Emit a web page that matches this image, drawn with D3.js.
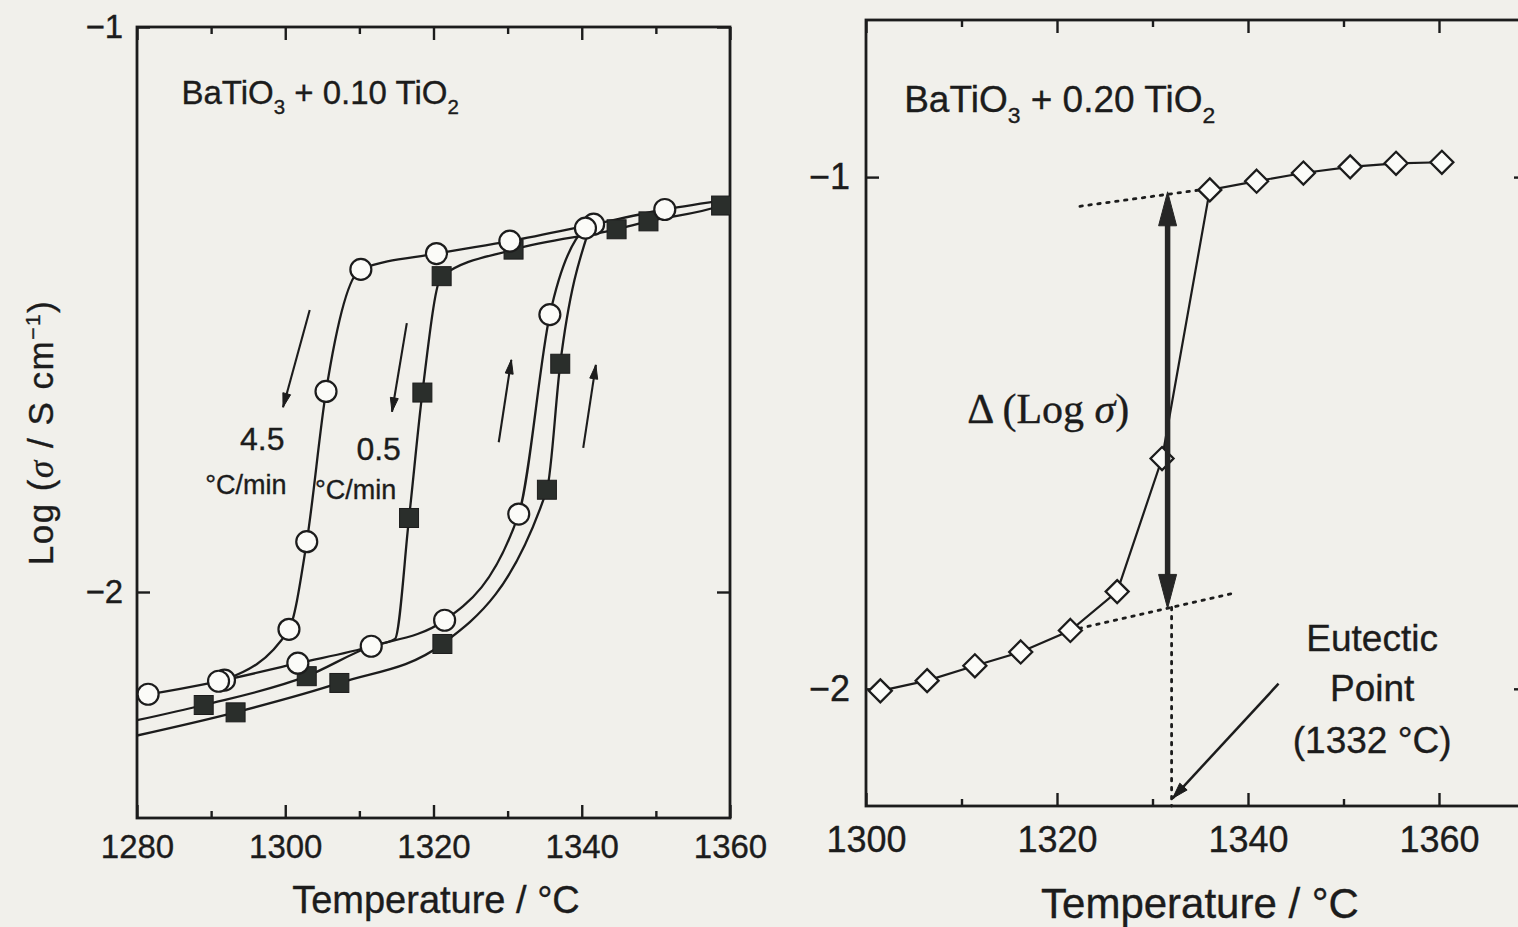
<!DOCTYPE html>
<html>
<head>
<meta charset="utf-8">
<script src="https://cdn.jsdelivr.net/npm/d3@7"></script>
<style>
  html, body { margin: 0; padding: 0; background: #f1f0eb; }
  svg { display: block; }
  text { fill: #1c1c1c; stroke: #1c1c1c; stroke-width: 0.35px; }
</style>
</head>
<body>
<svg id="fig" width="1518" height="927"></svg>
<script>
// ---------- Left panel: BaTiO3 + 0.10 TiO2 (temperature in °C, log σ in S/cm) ----------
const leftMajorT = [1280, 1300, 1320, 1340, 1360];
const leftMinorT = [1290, 1310, 1330, 1350];
const leftYTicks = [-1, -2];

// open circles, cooling at 4.5 °C/min (mark = 0: trace continues to the frame)
const coolFastT    = [1291.8, 1300.5, 1302.9, 1305.5, 1310.2, 1320.4, 1330.3, 1341.6, 1351.2, 1360];
const coolFastLog  = [-2.156, -2.066, -1.911, -1.645, -1.429, -1.401, -1.379, -1.349, -1.323, -1.305];
const coolFastMark = [1, 1, 1, 1, 1, 1, 1, 1, 1, 0];

// open circles, heating run
const heatOpenT    = [1280, 1281.5, 1291.0, 1301.7, 1311.6, 1321.5, 1331.5, 1335.7, 1340.5, 1341.6];
const heatOpenLog  = [-2.184, -2.181, -2.158, -2.126, -2.096, -2.050, -1.862, -1.509, -1.356, -1.349];
const heatOpenMark = [0, 1, 1, 1, 1, 1, 1, 1, 1, 0];

// filled squares, cooling at 0.5 °C/min
const coolSlowT    = [1280, 1289.0, 1302.9, 1311.6, 1314.8, 1316.7, 1318.5, 1321.1, 1330.8, 1344.7, 1349.0, 1358.8, 1360];
const coolSlowLog  = [-2.227, -2.200, -2.149, -2.096, -2.083, -1.869, -1.647, -1.441, -1.394, -1.358, -1.344, -1.316, -1.310];
const coolSlowMark = [0, 1, 1, 0, 0, 1, 1, 1, 1, 1, 1, 1, 0];

// filled squares, heating run
const heatFilledT    = [1280, 1293.3, 1307.3, 1321.2, 1335.3, 1337.1, 1340.9];
const heatFilledLog  = [-2.254, -2.213, -2.161, -2.092, -1.819, -1.596, -1.362];
const heatFilledMark = [0, 1, 1, 1, 1, 1, 0];

// rate arrows [T0, log0, T1, log1] and their labels
const rateArrows = [
  [1303.3, -1.501, 1299.7, -1.673],
  [1316.4, -1.524, 1314.4, -1.681],
  [1328.8, -1.735, 1330.5, -1.589],
  [1340.2, -1.745, 1341.9, -1.598]
];
const rateLabels = [
  { text: "4.5", T: 1296.9, log: -1.749 },
  { text: "0.5", T: 1312.6, log: -1.766 }
];
const rateUnits = [
  { text: "°C/min", T: 1289.2, log: -1.827 },
  { text: "°C/min", T: 1304.0, log: -1.836 }
];

// ---------- Right panel: BaTiO3 + 0.20 TiO2 ----------
const rightMajorT = [1300, 1320, 1340, 1360];
const rightMinorT = [1310, 1330, 1350];
const rightYTicks = [-1, -2];

const diamondT   = [1301.5, 1306.4, 1311.4, 1316.2, 1321.4, 1326.3, 1331.0, 1336.0, 1340.9, 1345.8, 1350.7, 1355.5, 1360.3];
const diamondLog = [-2.004, -1.984, -1.955, -1.928, -1.886, -1.810, -1.550, -1.025, -1.008, -0.992, -0.980, -0.973, -0.971];

// extrapolated baselines (dotted) and the eutectic temperature
const upperFitT   = [1322.4, 1335.0];
const upperFitLog = [-1.057, -1.025];
const lowerFitT   = [1321.4, 1338.8];
const lowerFitLog = [-1.886, -1.812];
const eutecticT = 1332;

// ---------- scales ----------
const xL = d3.scaleLinear().domain([1280, 1360]).range([137, 730]);
const yL = d3.scaleLinear().domain([-2.4, -1]).range([818, 27]);
const leftBox = { x0: 137, x1: 730, y0: 27, y1: 818 };

const xR = d3.scaleLinear().domain([1300, 1360]).range([866, 1439]);
const yR = d3.scaleLinear().domain([-2.229, -0.693]).range([806, 20]);
const rightBox = { x0: 866, x1: 1527, y0: 20, y1: 806 };

const svg = d3.select("#fig");
const INK = "#1c1c1c";
const FONT = "'Liberation Sans', Arial, Helvetica, sans-serif";
const SERIF = "'Liberation Serif', 'Times New Roman', serif";

function frame(box) {
  svg.append("rect")
    .attr("x", box.x0).attr("y", box.y0)
    .attr("width", box.x1 - box.x0).attr("height", box.y1 - box.y0)
    .attr("fill", "none").attr("stroke", INK).attr("stroke-width", 2.8);
}

function styleAxis(g, fontSize) {
  g.select(".domain").remove();
  g.selectAll("line").attr("stroke", INK).attr("stroke-width", 2.4);
  g.selectAll("text").attr("font-family", FONT).attr("font-size", fontSize).attr("fill", INK);
}

function axesFor(x, y, box, majors, minors, yTicks, opt) {
  // bottom: labelled major ticks + minor ticks, pointing inward
  svg.append("g").attr("transform", `translate(0,${box.y1})`)
    .call(d3.axisBottom(x).tickValues(majors).tickSizeInner(-opt.major).tickSizeOuter(0)
      .tickPadding(opt.xPad).tickFormat(d3.format("d")))
    .call(g => styleAxis(g, opt.font));
  svg.append("g").attr("transform", `translate(0,${box.y1})`)
    .call(d3.axisBottom(x).tickValues(minors).tickSizeInner(-opt.minor).tickSizeOuter(0).tickFormat(""))
    .call(g => styleAxis(g, opt.font));
  // top
  svg.append("g").attr("transform", `translate(0,${box.y0})`)
    .call(d3.axisTop(x).tickValues(majors).tickSizeInner(-opt.major).tickSizeOuter(0).tickFormat(""))
    .call(g => styleAxis(g, opt.font));
  svg.append("g").attr("transform", `translate(0,${box.y0})`)
    .call(d3.axisTop(x).tickValues(minors).tickSizeInner(-opt.minor).tickSizeOuter(0).tickFormat(""))
    .call(g => styleAxis(g, opt.font));
  // left with labels, right without
  svg.append("g").attr("transform", `translate(${box.x0},0)`)
    .call(d3.axisLeft(y).tickValues(yTicks).tickSizeInner(-opt.major).tickSizeOuter(0)
      .tickPadding(opt.yPad).tickFormat(d3.format("d")))
    .call(g => styleAxis(g, opt.font));
  svg.append("g").attr("transform", `translate(${box.x1},0)`)
    .call(d3.axisRight(y).tickValues(yTicks).tickSizeInner(-opt.major).tickSizeOuter(0).tickFormat(""))
    .call(g => styleAxis(g, opt.font));
}

function arrowHead(x0, y0, x1, y1, len, half, fill) {
  const a = Math.atan2(y1 - y0, x1 - x0);
  const bx = x1 - len * Math.cos(a), by = y1 - len * Math.sin(a);
  const px = -Math.sin(a) * half, py = Math.cos(a) * half;
  svg.append("path")
    .attr("d", `M${x1},${y1}L${bx + px},${by + py}L${bx - px},${by - py}Z`)
    .attr("fill", fill).attr("stroke", fill).attr("stroke-width", 1);
}

function zipSeries(T, L, M) {
  return T.map((t, i) => ({ T: t, log: L[i], mark: M ? M[i] : 1 }));
}

// ================= Left panel =================
frame(leftBox);
axesFor(xL, yL, leftBox, leftMajorT, leftMinorT, leftYTicks,
  { major: 13, minor: 7, xPad: 17, yPad: 14, font: 33 });

const lineL = d3.line().x(d => xL(d.T)).y(d => yL(d.log)).curve(d3.curveMonotoneX);

const openSeries   = [zipSeries(coolFastT, coolFastLog, coolFastMark), zipSeries(heatOpenT, heatOpenLog, heatOpenMark)];
const filledSeries = [zipSeries(coolSlowT, coolSlowLog, coolSlowMark), zipSeries(heatFilledT, heatFilledLog, heatFilledMark)];

svg.append("clipPath").attr("id", "clipL").append("rect")
  .attr("x", leftBox.x0).attr("y", leftBox.y0)
  .attr("width", leftBox.x1 - leftBox.x0).attr("height", leftBox.y1 - leftBox.y0);

const gL = svg.append("g").attr("clip-path", "url(#clipL)");
[...openSeries, ...filledSeries].forEach(s => {
  gL.append("path").attr("d", lineL(s)).attr("fill", "none")
    .attr("stroke", INK).attr("stroke-width", 2.3);
});

filledSeries.forEach(s => {
  gL.selectAll(null).data(s.filter(d => d.mark)).enter().append("rect")
    .attr("x", d => xL(d.T) - 9.5).attr("y", d => yL(d.log) - 9.5)
    .attr("width", 19).attr("height", 19)
    .attr("fill", "#2a2e2b").attr("stroke", "#1c1c1c").attr("stroke-width", 1);
});
openSeries.forEach(s => {
  gL.selectAll(null).data(s.filter(d => d.mark)).enter().append("circle")
    .attr("cx", d => xL(d.T)).attr("cy", d => yL(d.log)).attr("r", 10.5)
    .attr("fill", "#fbfbf8").attr("stroke", INK).attr("stroke-width", 2.2);
});

// rate arrows and labels
rateArrows.forEach(a => {
  const x0 = xL(a[0]), y0 = yL(a[1]), x1 = xL(a[2]), y1 = yL(a[3]);
  svg.append("line").attr("x1", x0).attr("y1", y0).attr("x2", x1).attr("y2", y1)
    .attr("stroke", INK).attr("stroke-width", 2.1);
  arrowHead(x0, y0, x1, y1, 14, 4, INK);
});
svg.selectAll(null).data(rateLabels).enter().append("text")
  .attr("x", d => xL(d.T)).attr("y", d => yL(d.log))
  .attr("text-anchor", "middle").attr("font-family", FONT).attr("font-size", 32)
  .text(d => d.text);
svg.selectAll(null).data(rateUnits).enter().append("text")
  .attr("x", d => xL(d.T)).attr("y", d => yL(d.log))
  .attr("font-family", FONT).attr("font-size", 27)
  .text(d => d.text);

// composition label
function formula(x, y, size, amount) {
  const t = svg.append("text").attr("x", x).attr("y", y)
    .attr("font-family", FONT).attr("font-size", size);
  t.append("tspan").text("BaTiO");
  t.append("tspan").attr("dy", size * 0.3).attr("font-size", size * 0.62).text("3");
  t.append("tspan").attr("dy", -size * 0.3).text(` + ${amount} TiO`);
  t.append("tspan").attr("dy", size * 0.3).attr("font-size", size * 0.62).text("2");
}
formula(xL(1286), yL(-1.136), 33, "0.10");

// axis titles
svg.append("text")
  .attr("transform", `translate(53,${(leftBox.y0 + leftBox.y1) / 2 + 10}) rotate(-90)`)
  .attr("text-anchor", "middle").attr("font-family", FONT).attr("font-size", 35)
  .attr("letter-spacing", 1.5)
  .call(t => {
    t.append("tspan").text("Log (");
    t.append("tspan").attr("font-style", "italic").attr("font-family", SERIF).text("σ");
    t.append("tspan").text(" / S cm");
    t.append("tspan").attr("dy", -13).attr("font-size", 21).text("−1");
    t.append("tspan").attr("dy", 13).text(")");
  });
svg.append("text").attr("x", 436).attr("y", 913)
  .attr("text-anchor", "middle").attr("font-family", FONT).attr("font-size", 38)
  .text("Temperature / °C");

// ================= Right panel =================
frame(rightBox);
axesFor(xR, yR, rightBox, rightMajorT, rightMinorT, rightYTicks,
  { major: 13, minor: 7, xPad: 20, yPad: 16, font: 36 });

const lineR = d3.line().x(d => xR(d.T)).y(d => yR(d.log));
const diamonds = zipSeries(diamondT, diamondLog);

// dotted baselines
const dotted = (T, L) => svg.append("path")
  .attr("d", lineR(T.map((t, i) => ({ T: t, log: L[i] }))))
  .attr("fill", "none").attr("stroke", INK).attr("stroke-width", 2.8)
  .attr("stroke-dasharray", "2.5,6.5").attr("stroke-linecap", "round");
dotted(upperFitT, upperFitLog);
dotted(lowerFitT, lowerFitLog);

const lowerAt = t => lowerFitLog[0] + (t - lowerFitT[0]) * (lowerFitLog[1] - lowerFitLog[0]) / (lowerFitT[1] - lowerFitT[0]);
const upperAt = t => upperFitLog[0] + (t - upperFitT[0]) * (upperFitLog[1] - upperFitLog[0]) / (upperFitT[1] - upperFitT[0]);
dotted([eutecticT, eutecticT], [lowerAt(eutecticT), yR.domain()[0]]);

// data line and diamonds
svg.append("path").attr("d", lineR(diamonds)).attr("fill", "none")
  .attr("stroke", INK).attr("stroke-width", 2.2);
svg.selectAll(null).data(diamonds).enter().append("path")
  .attr("transform", d => `translate(${xR(d.T)},${yR(d.log)})`)
  .attr("d", "M0,-11.5L11.5,0L0,11.5L-11.5,0Z")
  .attr("fill", "#fbfbf8").attr("stroke", INK).attr("stroke-width", 2.3);

// Δ(log σ) double arrow
{
  const ax = xR(eutecticT) - 4;
  const yTop = yR(upperAt(eutecticT)) - 2, yBot = yR(lowerAt(eutecticT)) + 1;
  svg.append("line").attr("x1", ax).attr("x2", ax).attr("y1", yTop + 25).attr("y2", yBot - 25)
    .attr("stroke", "#262626").attr("stroke-width", 5.5);
  arrowHead(ax, yBot, ax, yTop, 34, 9, "#262626");
  arrowHead(ax, yTop, ax, yBot, 34, 9, "#262626");
}
svg.append("text").attr("x", xR(1310.6)).attr("y", yR(-1.48))
  .attr("font-family", SERIF).attr("font-size", 42)
  .call(t => {
    t.append("tspan").text("Δ (Log ");
    t.append("tspan").attr("font-style", "italic").text("σ");
    t.append("tspan").text(")");
  });

// eutectic note
const eutecticLines = ["Eutectic", "Point", "(1332 °C)"];
const eutecticLineLog = [-1.926, -2.023, -2.126];
svg.selectAll(null).data(eutecticLines).enter().append("text")
  .attr("x", xR(1353.0)).attr("y", (d, i) => yR(eutecticLineLog[i]))
  .attr("text-anchor", "middle").attr("font-family", FONT).attr("font-size", 37)
  .text(d => d);
{
  const x0 = xR(1343.2), y0 = yR(-1.99), x1 = xR(eutecticT) + 1, y1 = yR(-2.214);
  svg.append("line").attr("x1", x0).attr("y1", y0).attr("x2", x1).attr("y2", y1)
    .attr("stroke", INK).attr("stroke-width", 2.5);
  arrowHead(x0, y0, x1, y1, 16, 5, INK);
}

formula(xR(1304.0), yR(-0.873), 37, "0.20");
svg.append("text").attr("x", 1200).attr("y", 918)
  .attr("text-anchor", "middle").attr("font-family", FONT).attr("font-size", 42)
  .text("Temperature / °C");
</script>
</body>
</html>
